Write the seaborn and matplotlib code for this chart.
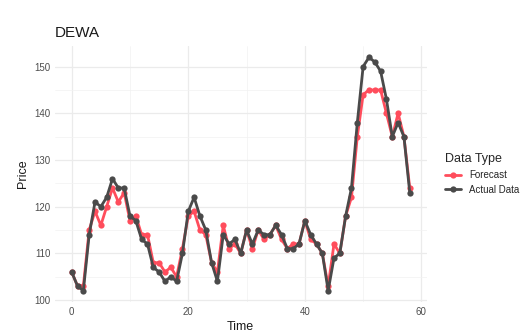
import numpy as np
import pandas as pd
import matplotlib
matplotlib.use("Agg")
import matplotlib.pyplot as plt
import seaborn as sns

time = list(range(59))
actual = [106, 103, 102, 114, 121, 120, 122, 126, 124, 124,
          118, 117, 113, 112, 107, 106, 104, 105, 104, 110,
          119, 122, 118, 115, 108, 104, 114, 112, 113, 110,
          115, 112, 115, 114, 114, 116, 114, 111, 111, 112,
          117, 114, 112, 110, 102, 109, 110, 118, 124, 138,
          150, 152, 151, 149, 143, 135, 138, 135, 123]
forecast = [106, 103, 103, 115, 119, 116, 120, 124, 121, 123,
            117, 118, 114, 114, 108, 108, 106, 107, 105, 111,
            118, 119, 115, 114, 108, 106, 116, 111, 112, 110,
            115, 111, 115, 113, 114, 116, 113, 111, 112, 112,
            117, 113, 112, 110, 103, 112, 110, 118, 122, 135,
            144, 145, 145, 145, 140, 135, 140, 135, 124]

series_names = ["Forecast", "Actual Data"]
colors = ["#FF4D5C", "#4A4A4A"]

df = pd.DataFrame({
    "Time": time * 2,
    "Price": forecast + actual,
    "Data Type": [series_names[0]] * len(time) + [series_names[1]] * len(time),
})

sns.set_theme(style="whitegrid")
plt.rcParams["font.family"] = ["Liberation Sans", "DejaVu Sans"]

fig = plt.figure(figsize=(5.32, 3.33), dpi=100)
ax = fig.add_axes([0.103, 0.092, 0.699, 0.771])

sns.lineplot(data=df, x="Time", y="Price", hue="Data Type",
             hue_order=series_names, palette=colors, marker="o",
             markersize=4.5, markeredgewidth=0, linewidth=2.0, ax=ax)

ax.set_xlim(-2.9, 60.9)
ax.set_ylim(99.5, 154.5)
ax.set_xticks([0, 20, 40, 60])
ax.set_yticks([100, 110, 120, 130, 140, 150])
ax.set_xticks([10, 30, 50], minor=True)
ax.set_yticks([105, 115, 125, 135, 145], minor=True)
ax.grid(which="major", color="#EBEBEB", linewidth=0.9)
ax.grid(which="minor", color="#F2F2F2", linewidth=0.5)
ax.set_facecolor("white")
for s in ax.spines.values():
    s.set_visible(False)
ax.tick_params(axis="both", which="both", length=0, labelsize=7, colors="#4D4D4D", pad=3)
ax.set_xlabel("Time", fontsize=9, color="#1A1A1A", labelpad=3)
ax.set_ylabel("Price", fontsize=9, color="#1A1A1A", labelpad=4)
ax.set_title("DEWA", fontsize=11, loc="left", color="#1A1A1A", pad=6)

leg = ax.legend(title="Data Type", loc="center left", bbox_to_anchor=(1.04, 0.5),
                frameon=False, fontsize=7, title_fontsize=9, handlelength=1.6,
                borderaxespad=0)
leg._legend_box.align = "left"

fig.savefig("out.png", dpi=100)
